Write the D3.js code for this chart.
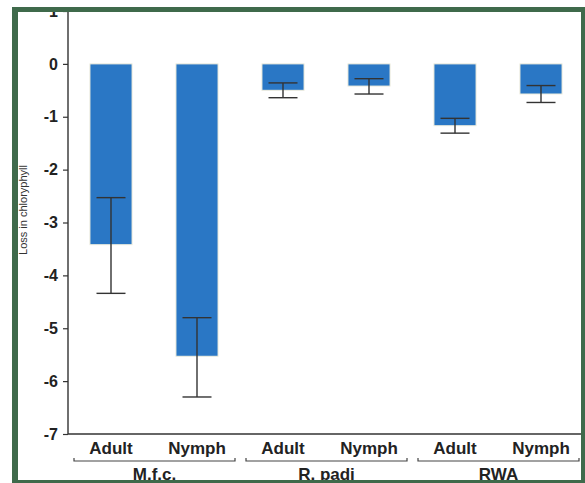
<!DOCTYPE html>
<html>
<head>
<meta charset="utf-8">
<script src="https://cdn.jsdelivr.net/npm/d3@7"></script>
<style>
  body { margin: 0; background: #fff; }
  svg text { font-family: "Liberation Sans", Arial, sans-serif; }
</style>
</head>
<body>
<div id="chart"></div>
<script>
// values
const groups = ["M.f.c.", "R. padi", "RWA"];
const stages = ["Adult", "Nymph"];
const barValues = [-3.42, -5.53, -0.5, -0.42, -1.17, -0.57];
const errTop = [-2.53, -4.8, -0.36, -0.28, -1.03, -0.41];
const errBottom = [-4.34, -6.3, -0.64, -0.57, -1.31, -0.73];
const yTicks = [1, 0, -1, -2, -3, -4, -5, -6, -7];

const width = 585;
const height = 483;

const svg = d3
  .select("#chart")
  .append("svg")
  .attr("width", width)
  .attr("height", height);

const cells = [];
groups.forEach((g, gi) => {
  stages.forEach((s, si) => {
    cells.push({ group: g, stage: s, i: gi * 2 + si });
  });
});

const x = d3
  .scaleBand()
  .domain(cells.map((d) => d.i))
  .range([68, 584])
  .paddingInner(0.51)
  .paddingOuter(0.255);

const y = d3.scaleLinear().domain([-7, 1]).range([434, 11]);

// bars
svg
  .selectAll("rect.bar")
  .data(cells)
  .enter()
  .append("rect")
  .attr("class", "bar")
  .attr("x", (d) => x(d.i))
  .attr("width", x.bandwidth())
  .attr("y", y(0))
  .attr("height", (d) => y(barValues[d.i]) - y(0))
  .attr("fill", "#2a77c5")
  .attr("stroke", "#f3f0de")
  .attr("stroke-width", 1);

// error bars
const cap = 14.5;
const err = svg.append("g").attr("stroke", "#333").attr("stroke-width", 1.4);
cells.forEach((d) => {
  const cx = x(d.i) + x.bandwidth() / 2;
  err.append("line")
    .attr("x1", cx).attr("x2", cx)
    .attr("y1", y(errTop[d.i])).attr("y2", y(errBottom[d.i]));
  err.append("line")
    .attr("x1", cx - cap).attr("x2", cx + cap)
    .attr("y1", y(errTop[d.i])).attr("y2", y(errTop[d.i]));
  err.append("line")
    .attr("x1", cx - cap).attr("x2", cx + cap)
    .attr("y1", y(errBottom[d.i])).attr("y2", y(errBottom[d.i]));
});

// y axis
const yAxis = d3
  .axisLeft(y)
  .tickValues(yTicks)
  .tickSize(5)
  .tickPadding(5)
  .tickFormat((d) => String(d));

const gy = svg.append("g").attr("transform", "translate(68,0)").call(yAxis);
gy.select(".domain").attr("stroke", "#333").attr("stroke-width", 1.4)
  .attr("d", `M-5,${y(1)}H0V${y(-7)}`);
gy.selectAll(".tick line").attr("stroke", "#333").attr("stroke-width", 1.2);
gy.selectAll(".tick text")
  .attr("font-size", 16)
  .attr("font-weight", "bold")
  .attr("fill", "#222")
  .attr("font-family", "Liberation Sans, Arial, sans-serif");

// x axis line
svg.append("line")
  .attr("x1", 68).attr("x2", 584)
  .attr("y1", y(-7)).attr("y2", y(-7))
  .attr("stroke", "#333").attr("stroke-width", 1.4);

// stage labels
svg
  .selectAll("text.stage")
  .data(cells)
  .enter()
  .append("text")
  .attr("class", "stage")
  .attr("x", (d) => x(d.i) + x.bandwidth() / 2)
  .attr("y", 454)
  .attr("text-anchor", "middle")
  .attr("font-size", 17)
  .attr("font-weight", "bold")
  .attr("fill", "#222")
  .text((d) => d.stage);

// group brackets and labels
groups.forEach((g, gi) => {
  const x0 = x(gi * 2) - x.step() * x.paddingInner() / 2 + 6;
  const x1 = x(gi * 2 + 1) + x.bandwidth() + x.step() * x.paddingInner() / 2 - 5;
  svg.append("path")
    .attr("d", `M${x0},458V461H${x1}V458`)
    .attr("fill", "none")
    .attr("stroke", "#444")
    .attr("stroke-width", 1.2);
  svg.append("text")
    .attr("x", (x0 + x1) / 2)
    .attr("y", 480)
    .attr("text-anchor", "middle")
    .attr("font-size", 17)
    .attr("font-weight", "bold")
    .attr("fill", "#222")
    .text(g);
});

// y title
svg.append("text")
  .attr("transform", `translate(27,${210}) rotate(-90)`)
  .attr("text-anchor", "middle")
  .attr("font-size", 11)
  .attr("fill", "#333")
  .text("Loss in chloryphyll");

// white outside the frame, then the green frame
svg.append("rect").attr("x", 0).attr("y", 0).attr("width", width).attr("height", 7).attr("fill", "#fff");
svg.append("rect").attr("x", 0).attr("y", 0).attr("width", 12).attr("height", height).attr("fill", "#fff");
const frame = "#3f6a4b";
svg.append("rect").attr("x", 12).attr("y", 7).attr("width", 573).attr("height", 5).attr("fill", frame);
svg.append("rect").attr("x", 12).attr("y", 7).attr("width", 6).attr("height", 476).attr("fill", frame);
svg.append("rect").attr("x", 581).attr("y", 7).attr("width", 4).attr("height", 476).attr("fill", frame);
svg.append("rect").attr("x", 12).attr("y", 480).attr("width", 573).attr("height", 3).attr("fill", frame);
</script>
</body>
</html>
